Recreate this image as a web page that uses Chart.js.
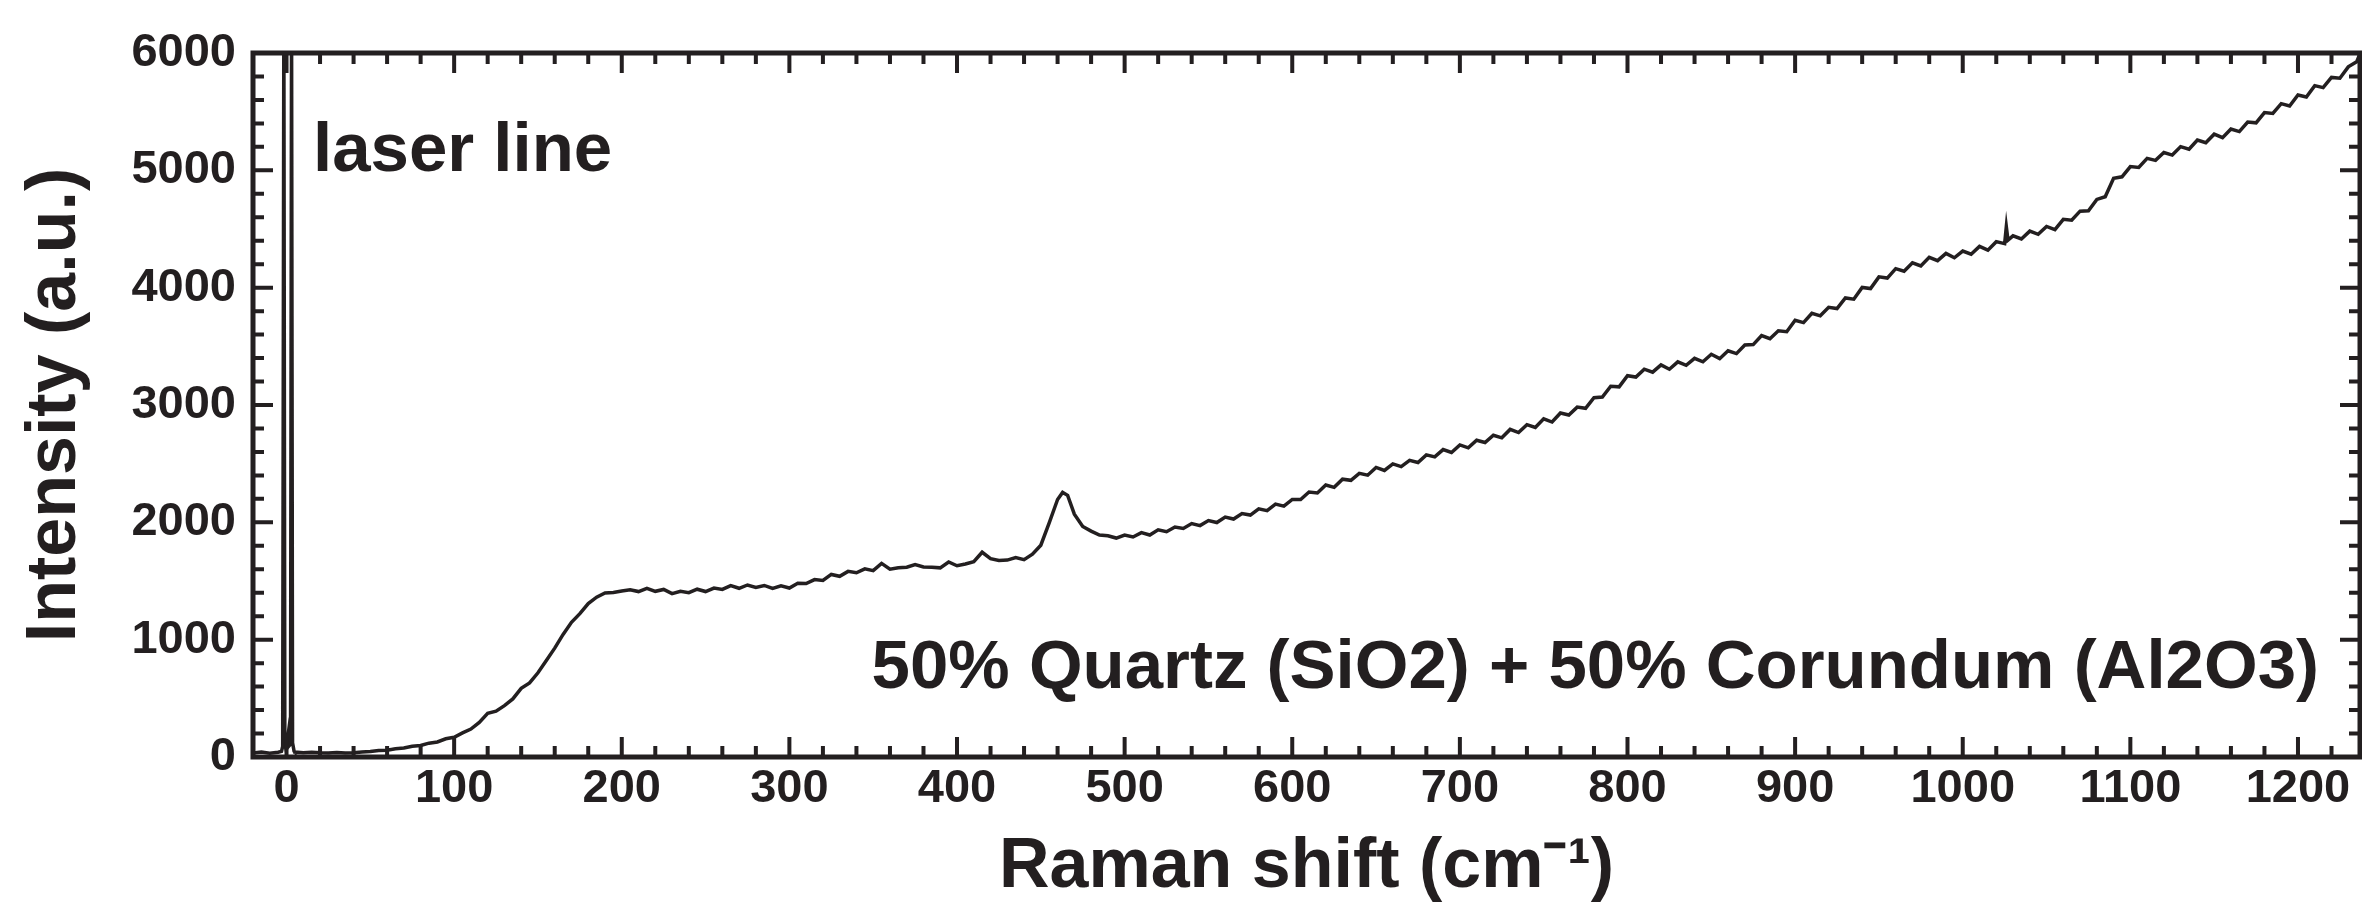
<!DOCTYPE html>
<html>
<head>
<meta charset="utf-8">
<script src="https://cdn.jsdelivr.net/npm/chart.js@4.4.0/dist/chart.umd.min.js"></script>
<style>
  html, body { margin: 0; padding: 0; background: #fff; }
  #wrap { width: 2362px; height: 903px; position: relative; }
</style>
</head>
<body>
<div id="wrap"><canvas id="chart"></canvas></div>
<script>
// Raman shift (cm-1) and intensity (a.u.)
const ramanShift = [
  -20, -15, -10, -5, -3, -2.3, -1.6, -1.0, -0.3, 0.5, 1.0, 1.5, 2.4, 3.0, 3.6, 4.5,
  5, 10, 15, 20, 25, 30, 35, 40, 45, 50, 55, 60, 65, 70, 75, 80, 85, 90, 95, 100,
  105, 110, 115, 120, 125, 130, 135, 140, 145, 150, 155, 160, 165, 170, 175, 180, 185, 190, 195, 200,
  205, 210, 215, 220, 225, 230, 235, 240, 245, 250, 255, 260, 265, 270, 275, 280, 285, 290, 295, 300,
  305, 310, 315, 320, 325, 330, 335, 340, 345, 350, 355, 360, 365, 370, 375, 380, 385, 390, 395, 400,
  405, 410, 415, 420, 425, 430, 435, 440, 445, 450, 455, 460, 463, 466, 470, 475, 480, 485, 490, 495, 500,
  505, 510, 515, 520, 525, 530, 535, 540, 545, 550, 555, 560, 565, 570, 575, 580, 585, 590, 595, 600,
  605, 610, 615, 620, 625, 630, 635, 640, 645, 650, 655, 660, 665, 670, 675, 680, 685, 690, 695, 700,
  705, 710, 715, 720, 725, 730, 735, 740, 745, 750, 755, 760, 765, 770, 775, 780, 785, 790, 795, 800,
  805, 810, 815, 820, 825, 830, 835, 840, 845, 850, 855, 860, 865, 870, 875, 880, 885, 890, 895, 900,
  905, 910, 915, 920, 925, 930, 935, 940, 945, 950, 955, 960, 965, 970, 975, 980, 985, 990, 995, 1000,
  1005, 1010, 1015, 1020, 1025, 1026, 1027, 1030, 1035, 1040, 1045, 1050, 1055, 1060, 1065, 1070, 1075, 1080, 1085, 1090, 1095, 1100,
  1105, 1110, 1115, 1120, 1125, 1130, 1135, 1140, 1145, 1150, 1155, 1160, 1165, 1170, 1175, 1180, 1185, 1190, 1195, 1200,
  1205, 1210, 1215, 1220, 1225, 1230, 1235, 1237
];
const intensity = [
  35, 42, 33, 40, 48, 90, 6400, 110, 65, 140, 195, 95, 110, 6400, 120, 50,
  42, 36, 41, 37, 35, 39, 34, 37, 43, 46, 55, 58, 70, 76, 92, 98, 118, 128, 155, 168,
  205, 238, 295, 372, 390, 438, 495, 585, 632, 718, 822, 928, 1045, 1148, 1222, 1308, 1362, 1398, 1402, 1415,
  1425, 1410, 1438, 1412, 1428, 1392, 1412, 1400, 1430, 1410, 1440, 1428, 1460, 1438, 1466, 1445, 1462, 1436, 1458, 1440,
  1480, 1478, 1512, 1505, 1556, 1540, 1582, 1570, 1604, 1588, 1650, 1600, 1612, 1618, 1640, 1620, 1618, 1612, 1662, 1630,
  1645, 1665, 1745, 1690, 1675, 1678, 1700, 1682, 1728, 1805, 1995, 2195, 2255, 2230, 2070, 1965, 1925, 1892, 1885, 1866, 1892,
  1875, 1912, 1892, 1936, 1920, 1960, 1948, 1990, 1972, 2015, 1998, 2045, 2028, 2075, 2062, 2115, 2100, 2155, 2138, 2195,
  2195, 2258, 2250, 2318, 2298, 2368, 2358, 2418, 2402, 2468, 2442, 2498, 2475, 2528, 2510, 2575, 2558, 2620, 2595, 2660,
  2635, 2700, 2680, 2742, 2720, 2792, 2765, 2832, 2808, 2882, 2855, 2932, 2915, 2982, 2972, 3062, 3068, 3160, 3155, 3250,
  3238, 3305, 3280, 3342, 3305, 3368, 3338, 3398, 3368, 3432, 3395, 3462, 3438, 3512, 3515, 3592, 3565, 3632, 3625, 3722,
  3702, 3782, 3760, 3832, 3822, 3912, 3902, 4002, 3992, 4092, 4082, 4162, 4140, 4212, 4185, 4258, 4230, 4292, 4255, 4312,
  4285, 4352, 4320, 4392, 4375, 4520, 4405, 4442, 4415, 4482, 4455, 4522, 4495, 4582, 4575, 4652, 4655, 4752, 4775, 4932, 4945, 5032,
  5025, 5102, 5085, 5152, 5130, 5202, 5180, 5258, 5235, 5308, 5278, 5352, 5330, 5412, 5405, 5492, 5485, 5568, 5548, 5642,
  5625, 5722, 5705, 5792, 5785, 5882, 5925, 5995
];

const xTicks = [0, 100, 200, 300, 400, 500, 600, 700, 800, 900, 1000, 1100, 1200];
const yTicks = [0, 1000, 2000, 3000, 4000, 5000, 6000];

const ink = '#231f20';
const fontFamily = '"Liberation Sans", Arial, Helvetica, sans-serif';

// frame with inward ticks on all four sides, plus the two text notes
const frame = {
  id: 'frame',
  afterDatasetsDraw(chart) {
    const { ctx, chartArea: a, scales: { x, y } } = chart;
    ctx.save();
    ctx.strokeStyle = ink;
    ctx.lineWidth = 4;
    ctx.beginPath();
    for (let v = 0; v <= 1220; v += 20) {
      const px = x.getPixelForValue(v);
      const len = v % 100 === 0 ? 20 : 11;
      ctx.moveTo(px, a.bottom); ctx.lineTo(px, a.bottom - len);
      ctx.moveTo(px, a.top); ctx.lineTo(px, a.top + len);
    }
    for (let v = 200; v < 6000; v += 200) {
      const py = y.getPixelForValue(v);
      const len = v % 1000 === 0 ? 20 : 11;
      ctx.moveTo(a.left, py); ctx.lineTo(a.left + len, py);
      ctx.moveTo(a.right, py); ctx.lineTo(a.right - len, py);
    }
    ctx.stroke();
    ctx.lineWidth = 5;
    ctx.strokeRect(a.left, a.top, a.right - a.left, a.bottom - a.top);

    ctx.fillStyle = ink;
    ctx.font = 'bold 69px ' + fontFamily;
    ctx.textBaseline = 'alphabetic';
    ctx.textAlign = 'left';
    ctx.fillText('laser line', 313, 171);
    ctx.textAlign = 'right';
    ctx.fillText('50% Quartz (SiO2) + 50% Corundum (Al2O3)', 2319, 688);
    ctx.restore();
  }
};

new Chart(document.getElementById('chart'), {
  type: 'line',
  data: {
    datasets: [{
      data: ramanShift.map((v, i) => ({ x: v, y: intensity[i] })),
      borderColor: ink,
      borderWidth: 3.5,
      pointRadius: 0,
      tension: 0,
      fill: false,
      clip: 0
    }]
  },
  options: {
    responsive: true,
    maintainAspectRatio: false,
    animation: false,
    layout: { padding: { top: 53, right: 2, left: 0, bottom: 0 } },
    plugins: { legend: { display: false }, tooltip: { enabled: false } },
    scales: {
      x: {
        type: 'linear',
        min: -20,
        max: 1237,
        afterFit: s => { s.height = 146; },
        afterBuildTicks: s => { s.ticks = xTicks.map(v => ({ value: v })); },
        grid: { display: false, drawTicks: false },
        border: { display: false },
        ticks: {
          color: ink,
          padding: 4,
          maxRotation: 0,
          autoSkip: false,
          callback: v => String(v),
          font: { family: fontFamily, size: 47, weight: 'bold' }
        },
        title: {
          display: true,
          text: 'Raman shift (cm\u207B\u00B9)',
          color: ink,
          padding: 0,
          font: { family: fontFamily, size: 70, weight: 'bold', lineHeight: 1 }
        }
      },
      y: {
        min: 0,
        max: 6000,
        afterFit: s => { s.width = 253; },
        afterBuildTicks: s => { s.ticks = yTicks.map(v => ({ value: v })); },
        grid: { display: false, drawTicks: false },
        border: { display: false },
        ticks: {
          color: ink,
          padding: 17,
          autoSkip: false,
          callback: v => String(v),
          font: { family: fontFamily, size: 47, weight: 'bold' }
        },
        title: {
          display: true,
          text: 'Intensity (a.u.)',
          color: ink,
          padding: { top: 21, bottom: 0 },
          font: { family: fontFamily, size: 70, weight: 'bold', lineHeight: 1 }
        }
      }
    }
  },
  plugins: [frame]
});
</script>
</body>
</html>
